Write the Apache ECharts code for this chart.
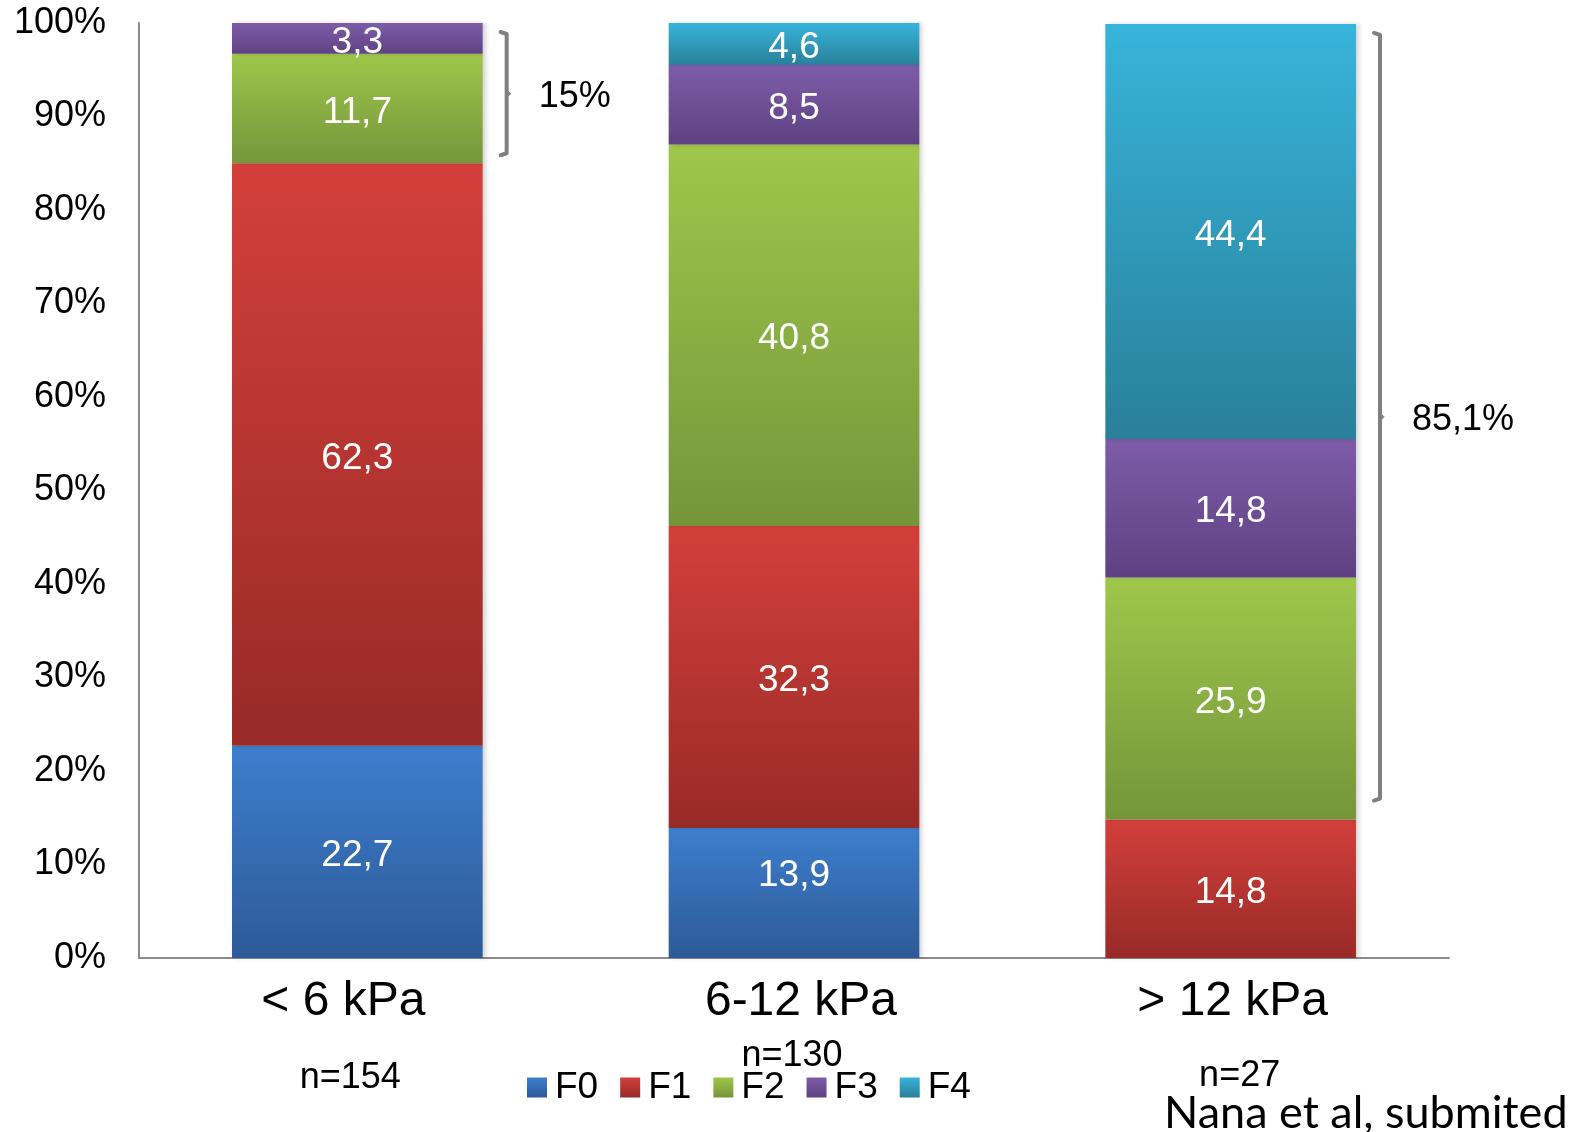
<!DOCTYPE html>
<html>
<head>
<meta charset="utf-8">
<script src="https://cdn.jsdelivr.net/npm/echarts@6/dist/echarts.min.js"></script>
<style>
  html, body { margin: 0; padding: 0; background: #ffffff; }
  #chart { width: 1581px; height: 1132px; }
</style>
</head>
<body>
<div id="chart"></div>
<script>
// Liver stiffness groups and fibrosis stage distribution (%)
const categories = ['< 6 kPa', '6-12 kPa', '> 12 kPa'];
const sampleSizes = ['n=154', 'n=130', 'n=27'];
const stageNames = ['F0', 'F1', 'F2', 'F3', 'F4'];
const F0 = [22.7, 13.9, null];
const F1 = [62.3, 32.3, 14.8];
const F2 = [11.7, 40.8, 25.9];
const F3 = [3.3, 8.5, 14.8];
const F4 = [null, 4.6, 44.4];
const yTicks = [0, 10, 20, 30, 40, 50, 60, 70, 80, 90, 100];

// Brackets: category index, first stage included, label
const bracketCategory = [0, 2];
const bracketFromStage = [2, 2];
const bracketLabels = ['15%', '85,1%'];

// Styling
const FONT = '"Liberation Sans", Arial, sans-serif';
const stageGradients = [
  ['#3d7ecd', '#2d5a98'],
  ['#d33f3b', '#982a27'],
  ['#9ec74b', '#75953a'],
  ['#7e5ca9', '#5e4182'],
  ['#37b4da', '#29809a']
];
const nLabelY = [1078, 1056, 1076];
const nLabelDx = [-7, -2, 9];
const bracketInsetBottom = [8, 19];
const categoryLabelPad = [[0, 28, 0, 0], [0, 0, 0, 14], [0, 0, 0, 4]];

const stageData = [F0, F1, F2, F3, F4];

function grad(c) {
  return new echarts.graphic.LinearGradient(0, 0, 0, 1, [
    { offset: 0, color: c[0] },
    { offset: 1, color: c[1] }
  ]);
}

const chart = echarts.init(document.getElementById('chart'), null, { renderer: 'canvas' });

const series = stageNames.map((name, i) => ({
  name: name,
  type: 'bar',
  stack: 'total',
  barWidth: '57.4%',
  data: stageData[i].map((v, ci) => {
    // the F0 label of the middle group sits a little higher
    if (i === 0 && ci === 1) return { value: v, label: { offset: [0, -17] } };
    return v;
  }),
  itemStyle: {
    color: grad(stageGradients[i]),
    shadowColor: 'rgba(0,0,0,0.16)',
    shadowBlur: 4,
    shadowOffsetX: 3
  },
  label: {
    show: true,
    position: 'inside',
    offset: [0, 4],
    color: '#ffffff',
    fontFamily: FONT,
    fontSize: 37,
    formatter: p => (p.value == null ? '' : String(p.value).replace('.', ','))
  },
  emphasis: { disabled: true }
}));

const catRich = {};
categoryLabelPad.forEach((pad, i) => {
  catRich['c' + i] = { fontFamily: FONT, fontSize: 48, color: '#000000', padding: pad };
});

chart.setOption({
  animation: false,
  backgroundColor: '#ffffff',
  grid: { left: 139, top: 23, right: 132, bottom: 174, containLabel: false },
  legend: {
    data: stageNames,
    left: 522,
    top: 1064,
    itemWidth: 20,
    itemHeight: 20,
    itemGap: 22,
    textStyle: { fontFamily: FONT, fontSize: 37, color: '#000000', padding: [0, 0, 0, 3] },
    icon: 'rect'
  },
  xAxis: {
    type: 'category',
    data: categories,
    axisTick: { show: false },
    axisLine: { show: true, lineStyle: { color: '#8a8a8a', width: 2 } },
    axisLabel: {
      fontFamily: FONT, fontSize: 48, color: '#000000', margin: 20,
      formatter: (v, idx) => '{c' + idx + '|' + v + '}',
      rich: catRich
    }
  },
  yAxis: {
    type: 'value',
    min: yTicks[0],
    max: yTicks[yTicks.length - 1],
    interval: yTicks[1] - yTicks[0],
    splitLine: { show: false },
    axisTick: { show: false },
    axisLine: { show: true, lineStyle: { color: '#8a8a8a', width: 2 } },
    axisLabel: {
      fontFamily: FONT, fontSize: 36, color: '#000000', margin: 33,
      formatter: '{value}%'
    }
  },
  series: series
});

// Annotations positioned through the chart's own scales
function buildGraphics() {
  const elements = [];
  const barWidthPx = (1581 - 139 - 132) / categories.length * 0.574;
  const bracketStyle = { fill: null, stroke: '#808080', lineWidth: 4, lineJoin: 'round', lineCap: 'round' };

  bracketCategory.forEach((ci, k) => {
    let base = 0;
    for (let s = 0; s < bracketFromStage[k]; s++) base += stageData[s][ci] || 0;
    let total = 0;
    stageData.forEach(arr => { total += arr[ci] || 0; });
    const bottomPt = chart.convertToPixel({ gridIndex: 0 }, [ci, base]);
    const topPt = chart.convertToPixel({ gridIndex: 0 }, [ci, Math.min(total, 100)]);
    const x = bottomPt[0] + barWidthPx / 2 + 24;
    const y0 = topPt[1] + 9;
    const y1 = bottomPt[1] - bracketInsetBottom[k];
    const ym = (y0 + y1) / 2;
    const hook = 6;
    elements.push({
      type: 'polyline',
      shape: { points: [[x - hook, y0], [x, y0 + 2], [x, y1 - 2], [x - hook, y1]] },
      style: bracketStyle,
      silent: true
    });
    elements.push({
      type: 'polyline',
      shape: { points: [[x, ym - 4], [x + 4, ym], [x, ym + 4]] },
      style: { fill: '#808080', stroke: '#808080', lineWidth: 1 },
      silent: true
    });
    elements.push({
      type: 'text',
      x: x + 32,
      y: ym + 3,
      style: {
        text: bracketLabels[k],
        fontFamily: FONT, fontSize: 36, fill: '#000000',
        align: 'left', verticalAlign: 'middle'
      },
      silent: true
    });
  });

  categories.forEach((c, ci) => {
    const p = chart.convertToPixel({ gridIndex: 0 }, [ci, 0]);
    elements.push({
      type: 'text',
      x: p[0] + nLabelDx[ci],
      y: nLabelY[ci],
      style: {
        text: sampleSizes[ci],
        fontFamily: FONT, fontSize: 36, fill: '#000000',
        align: 'center', verticalAlign: 'middle'
      },
      silent: true
    });
  });

  elements.push({
    type: 'text',
    x: 1164,
    y: 1113,
    style: {
      text: 'Nana et al, submited',
      fontFamily: 'Lato, "Open Sans", sans-serif',
      fontSize: 45, fill: '#000000',
      align: 'left', verticalAlign: 'middle'
    },
    silent: true
  });

  chart.setOption({ graphic: { elements: elements } });
}

buildGraphics();
</script>
</body>
</html>
